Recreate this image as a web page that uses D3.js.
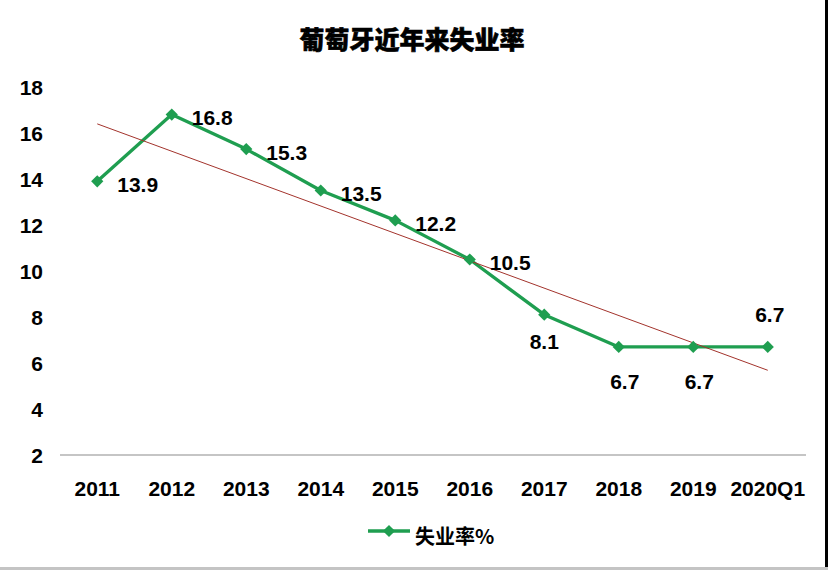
<!DOCTYPE html>
<html>
<head>
<meta charset="utf-8">
<script src="https://cdnjs.cloudflare.com/ajax/libs/d3/7.8.5/d3.min.js"></script>
<style>
  html, body { margin: 0; padding: 0; background: #fff; }
  svg { display: block; }
</style>
</head>
<body>
<svg id="chart" width="828" height="570"></svg>
<script>
// data
const years = ['2011', '2012', '2013', '2014', '2015', '2016', '2017', '2018', '2019', '2020Q1'];
const rates = [13.9, 16.8, 15.3, 13.5, 12.2, 10.5, 8.1, 6.7, 6.7, 6.7];
const yTicks = [2, 4, 6, 8, 10, 12, 14, 16, 18];
const labelSide = ['right', 'right', 'right', 'right', 'right', 'right', 'below', 'below2', 'below2', 'above'];

const W = 828, H = 570;
const GREEN = '#1f9e50';
const FONT = 'Arial, "Liberation Sans", "Noto Sans CJK SC", sans-serif';

const svg = d3.select('#chart');

const x = d3.scalePoint().domain(years).range([60, 805]).padding(0.5);
const y = d3.scaleLinear().domain([2, 18]).range([455, 87]);

// frame bits of the screenshot
svg.append('rect').attr('x', W - 3).attr('y', 0).attr('width', 3).attr('height', H - 3).attr('fill', '#000');
svg.append('rect').attr('x', 0).attr('y', H - 3).attr('width', W).attr('height', 3).attr('fill', '#c4c4c4');

// title
svg.append('text')
  .attr('x', 412).attr('y', 40).attr('dy', '0.35em')
  .attr('text-anchor', 'middle')
  .style('font-family', '"Noto Sans CJK SC", sans-serif')
  .style('font-weight', 900)
  .style('font-size', '25px')
  .style('fill', '#000')
  .style('stroke', '#000').style('stroke-width', 0.6)
  .text('葡萄牙近年来失业率');

// y tick labels
svg.append('g').selectAll('text')
  .data(yTicks).enter().append('text')
    .attr('x', 43).attr('y', d => y(d)).attr('dy', '0.36em')
    .attr('text-anchor', 'end')
    .style('font-family', FONT).style('font-weight', 'bold').style('font-size', '21px')
    .text(d => d);

// x axis line + labels
svg.append('line')
  .attr('x1', 60).attr('x2', 806).attr('y1', y(2)).attr('y2', y(2))
  .style('stroke', '#8c8c8c').style('stroke-width', 1.2);

svg.append('g').selectAll('text')
  .data(years).enter().append('text')
    .attr('x', d => x(d)).attr('y', 488).attr('dy', '0.36em')
    .attr('text-anchor', 'middle')
    .style('font-family', FONT).style('font-weight', 'bold').style('font-size', '21px')
    .text(d => d);

// linear trend line (least squares on the series)
const idx = rates.map((v, i) => i);
const mx = d3.mean(idx), my = d3.mean(rates);
const slope = d3.sum(idx, i => (i - mx) * (rates[i] - my)) / d3.sum(idx, i => (i - mx) * (i - mx));
const icpt = my - slope * mx;
const last = rates.length - 1;

// series line
const line = d3.line().x((d, i) => x(years[i])).y(d => y(d));
svg.append('path')
  .datum(rates)
  .attr('d', line)
  .style('fill', 'none').style('stroke', GREEN).style('stroke-width', 3.3)
  .style('stroke-linejoin', 'round');

svg.append('line')
  .attr('x1', x(years[0])).attr('y1', y(icpt))
  .attr('x2', x(years[last])).attr('y2', y(icpt + slope * last))
  .style('stroke', '#a3332c').style('stroke-width', 1);

const diamond = d3.symbol().type(d3.symbolDiamond2).size(95);
svg.append('g').selectAll('path')
  .data(rates).enter().append('path')
    .attr('d', diamond)
    .attr('transform', (d, i) => `translate(${x(years[i])},${y(d)})`)
    .style('fill', GREEN);

// data labels
const place = {
  right: { dx: 20, dy: 3, anchor: 'start' },
  below: { dx: 0, dy: 27, anchor: 'middle' },
  below2: { dx: 6, dy: 35, anchor: 'middle' },
  above: { dx: 2, dy: -32, anchor: 'middle' }
};
svg.append('g').selectAll('text')
  .data(rates).enter().append('text')
    .attr('x', (d, i) => x(years[i]) + place[labelSide[i]].dx)
    .attr('y', (d, i) => y(d) + place[labelSide[i]].dy)
    .attr('dy', '0.36em')
    .attr('text-anchor', (d, i) => place[labelSide[i]].anchor)
    .style('font-family', FONT).style('font-weight', 'bold').style('font-size', '21px')
    .text(d => d.toFixed(1));

// legend
const lg = svg.append('g').attr('transform', 'translate(368,531)');
lg.append('line').attr('x1', 0).attr('x2', 42).attr('y1', 0).attr('y2', 0)
  .style('stroke', GREEN).style('stroke-width', 3.3);
lg.append('path').attr('d', diamond).attr('transform', 'translate(21,0)').style('fill', GREEN);
lg.append('text')
  .attr('x', 47).attr('y', 6).attr('dy', '0.35em')
  .style('font-family', '"Noto Sans CJK SC", sans-serif')
  .style('font-weight', 'bold').style('font-size', '20px')
  .text('失业率%');
</script>
</body>
</html>
